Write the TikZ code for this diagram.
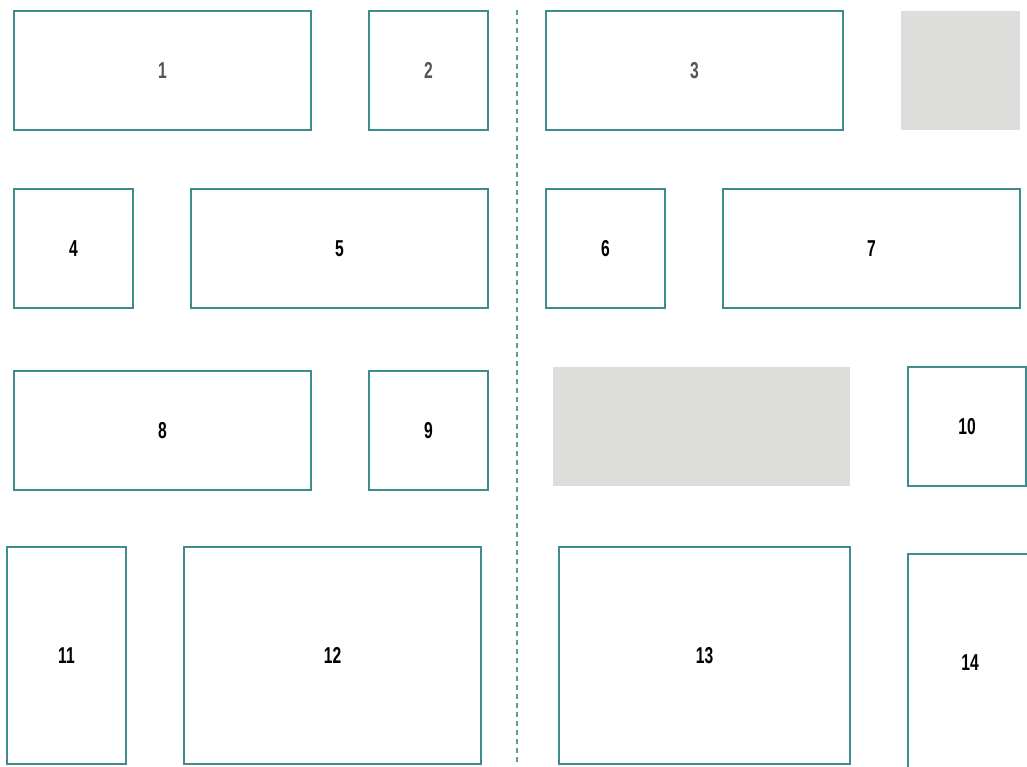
\documentclass[tikz,border=0pt]{standalone}
\usepackage{fontspec}
\setmainfont{Liberation Sans}[FakeStretch=0.68]
\definecolor{teal1}{HTML}{3F8C8E}
\definecolor{dashc}{HTML}{5E9C9E}
\definecolor{graybox}{HTML}{DDDDDB}
\definecolor{lbldark}{HTML}{55554F}
\tikzset{
  bx/.style={draw=teal1, line width=2pt, fill=white, inner sep=0pt, outer sep=0pt,
    font=\fontsize{23}{23}\selectfont\bfseries, text=black},
  gbx/.style={fill=graybox, draw=none, inner sep=0pt, outer sep=0pt},
  dk/.style={text=lbldark},
  divider/.style={draw=dashc, line width=1.5pt, dash pattern=on 5pt off 4pt}
}
\begin{document}
\begin{tikzpicture}[x=1pt,y=-1pt]
\useasboundingbox (0,0) rectangle (1027,766);
\clip (0,0) rectangle (1027,766);
\fill[white] (0,0) rectangle (1027,766);
\coordinate (dtop) at (517,10);
\coordinate (dbot) at (517,762);
\draw[divider] (dtop) -- (dbot);
\node[bx,dk, minimum width=297pt, minimum height=119pt] (b1) at (162.5,70.5) {1};
\node[bx,dk, minimum width=119pt, minimum height=119pt] (b2) at (428.5,70.5) {2};
\node[bx,dk, minimum width=297pt, minimum height=119pt] (b3) at (694.5,70.5) {3};
\node[gbx, minimum width=119pt, minimum height=119pt] (g1) at (960.5,70.5) {};
\node[bx, minimum width=119pt, minimum height=119pt] (b4) at (73.5,248.5) {4};
\node[bx, minimum width=297pt, minimum height=119pt] (b5) at (339.5,248.5) {5};
\node[bx, minimum width=119pt, minimum height=119pt] (b6) at (605.5,248.5) {6};
\node[bx, minimum width=297pt, minimum height=119pt] (b7) at (871.5,248.5) {7};
\node[bx, minimum width=297pt, minimum height=119pt] (b8) at (162.5,430.5) {8};
\node[bx, minimum width=119pt, minimum height=119pt] (b9) at (428.5,430.5) {9};
\node[gbx, minimum width=297pt, minimum height=119pt] (g2) at (701.5,426.5) {};
\node[bx, minimum width=118pt, minimum height=119pt] (b10) at (967,426.5) {10};
\node[bx, minimum width=119pt, minimum height=217pt] (b11) at (66.5,655.5) {11};
\node[bx, minimum width=297pt, minimum height=217pt] (b12) at (332.5,655.5) {12};
\node[bx, minimum width=291pt, minimum height=217pt] (b13) at (704.5,655.5) {13};
\node[bx, minimum width=124pt, minimum height=218pt] (b14) at (970,663) {14};
\end{tikzpicture}
\end{document}
